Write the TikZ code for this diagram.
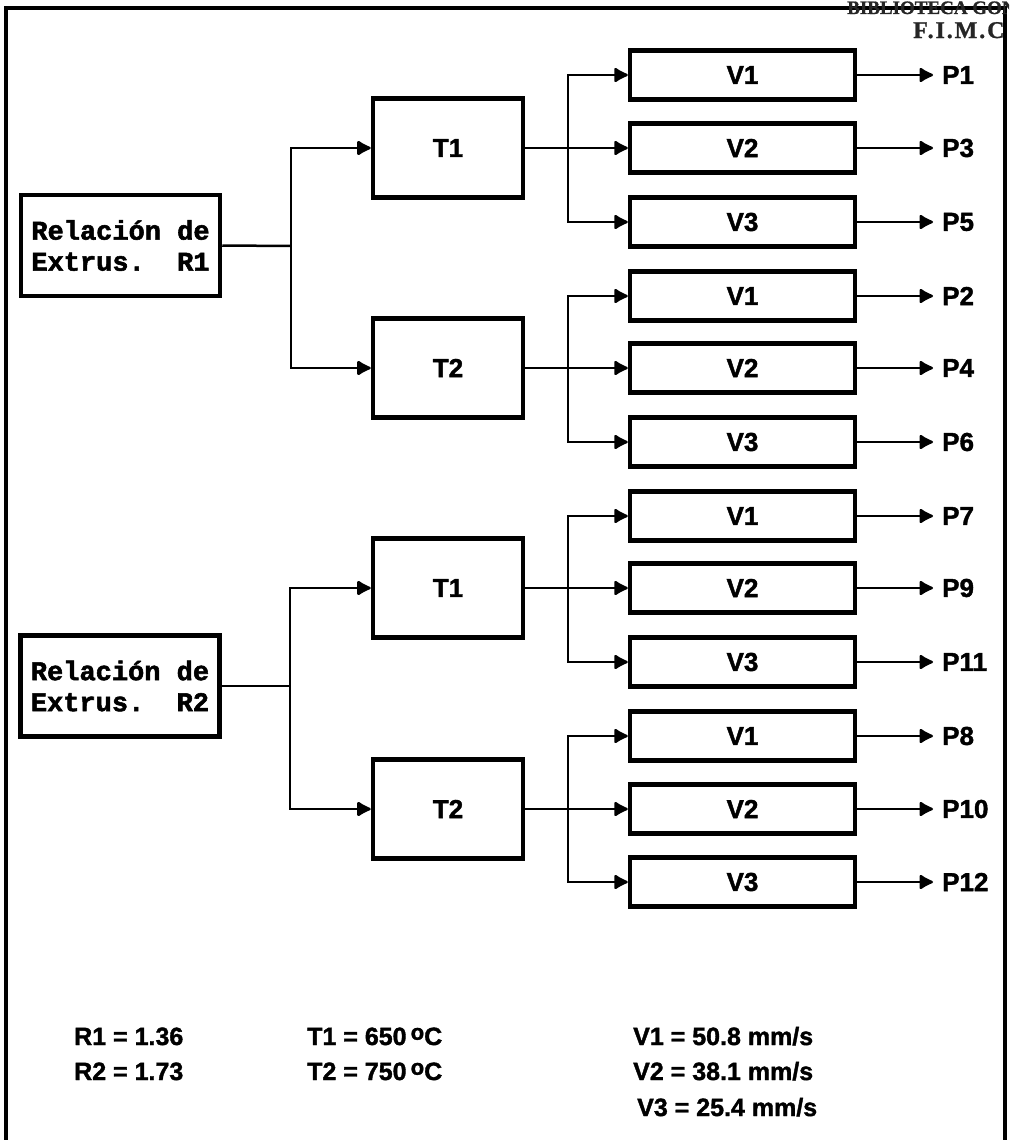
\documentclass[tikz,border=0pt]{standalone}
\usepackage{fontspec}
\setmainfont{Liberation Sans}
\setmonofont{Liberation Mono}[BoldFeatures={FakeBold=2}]
\newfontfamily\heavysans{Liberation Sans}[BoldFeatures={FakeBold=1.5}]
\newfontfamily\stampfont{Liberation Serif}[BoldFeatures={FakeBold=1}]
\usetikzlibrary{arrows.meta}
\newcommand{\labfont}{\heavysans\fontsize{26}{30}\selectfont\bfseries}
\newcommand{\legfont}{\heavysans\fontsize{25}{29}\selectfont\bfseries}
\newcommand{\dego}{\,\raisebox{0.4ex}{\fontsize{22}{22}\selectfont o}C}
\begin{document}
\begin{tikzpicture}[x=1pt,y=-1pt,
  box/.style={draw,line width=4.5pt,inner sep=0pt},
  rbox/.style={box,minimum width=199pt,minimum height=101pt,
    font=\fontsize{27}{31}\selectfont\ttfamily\bfseries,align=left},
  tbox/.style={box,minimum width=150pt,minimum height=99pt,font=\labfont},
  vbox/.style={box,minimum width=225pt,minimum height=49pt,font=\labfont},
  plab/.style={anchor=west,inner sep=0pt,inner xsep=9pt,font=\labfont},
  leg/.style={anchor=base west,inner sep=0pt,font=\legfont},
  conn/.style={line width=2.5pt},
  arr/.style={conn,-{Latex[length=16pt,width=17pt,round]}},
  frame/.style={line width=3.5pt}
]
\useasboundingbox (0,0) rectangle (1009,1140);
\fill[white] (0,0) rectangle (1009,1140);

% frame (no bottom edge)
\coordinate (fbl) at (6,1145);
\coordinate (ftl) at (6,8);
\coordinate (ftr) at (1005,8);
\coordinate (fbr) at (1005,1145);
\draw[frame] (fbl) -- (ftl) -- (ftr) -- (fbr);

% stamp (cut off at the page edge, as in the scan)
\begin{scope}
\clip (0,0) rectangle (1009,1140);
\node[anchor=base west,inner sep=0pt,text=black!85,
  font=\stampfont\bfseries\fontsize{19}{19}\selectfont] (stamp1) at (847,14) {BIBLIOTECA GONZ};
\node[anchor=base west,inner sep=0pt,text=black!85,
  font=\stampfont\bfseries\fontsize{24}{24}\selectfont\addfontfeatures{LetterSpace=8}] (stamp2) at (913,38) {F.I.M.C};
\end{scope}

% ---------- group R1 ----------
\node[rbox] (R1) at (120.5,245.5) {Relación de\\Extrus.\ \ R1};
\node[tbox] (T11) at (448,148) {T1};
\node[tbox] (T12) at (448,368) {T2};
\coordinate (b1) at (291,246);
\draw[conn] (R1.east) -- (b1);
\draw[arr] (b1) |- (T11.west);
\draw[arr] (b1) |- (T12.west);

% ---------- group R2 ----------
\node[rbox] (R2) at (120,686) {Relación de\\Extrus.\ \ R2};
\node[tbox] (T21) at (448,588) {T1};
\node[tbox] (T22) at (448,809) {T2};
\coordinate (b2) at (290,686);
\draw[conn] (R2.east) -- (b2);
\draw[arr] (b2) |- (T21.west);
\draw[arr] (b2) |- (T22.west);

% ---------- V boxes and P outputs ----------
\foreach \T/\ya/\yb/\yc/\pa/\pb/\pc in {
  T11/75/148/222/P1/P3/P5,
  T12/296/368/442/P2/P4/P6,
  T21/516/588/662/P7/P9/P11,
  T22/736/809/882/P8/P10/P12}{
  \node[vbox] (\T v1) at (742.5,\ya) {V1};
  \node[vbox] (\T v2) at (742.5,\yb) {V2};
  \node[vbox] (\T v3) at (742.5,\yc) {V3};
  \coordinate (\T b) at (568,\yb);
  \draw[conn] (\T.east) -- (\T b);
  \draw[arr] (\T b) |- (\T v1.west);
  \draw[arr] (\T b) -- (\T v2.west);
  \draw[arr] (\T b) |- (\T v3.west);
  \node[plab] (\T p1) at (933,\ya) {\pa};
  \node[plab] (\T p2) at (933,\yb) {\pb};
  \node[plab] (\T p3) at (933,\yc) {\pc};
  \draw[arr] (\T v1.east) -- (\T p1.west);
  \draw[arr] (\T v2.east) -- (\T p2.west);
  \draw[arr] (\T v3.east) -- (\T p3.west);
}

% ---------- legend ----------
\node[leg] (l1) at (74,1045) {R1 = 1.36};
\node[leg] (l2) at (74,1080) {R2 = 1.73};
\node[leg] (l3) at (307,1045) {T1 = 650\dego};
\node[leg] (l4) at (307,1080) {T2 = 750\dego};
\node[leg] (l5) at (633,1045) {V1 = 50.8 mm/s};
\node[leg] (l6) at (633,1080) {V2 = 38.1 mm/s};
\node[leg] (l7) at (637,1116) {V3 = 25.4 mm/s};
\end{tikzpicture}
\end{document}
